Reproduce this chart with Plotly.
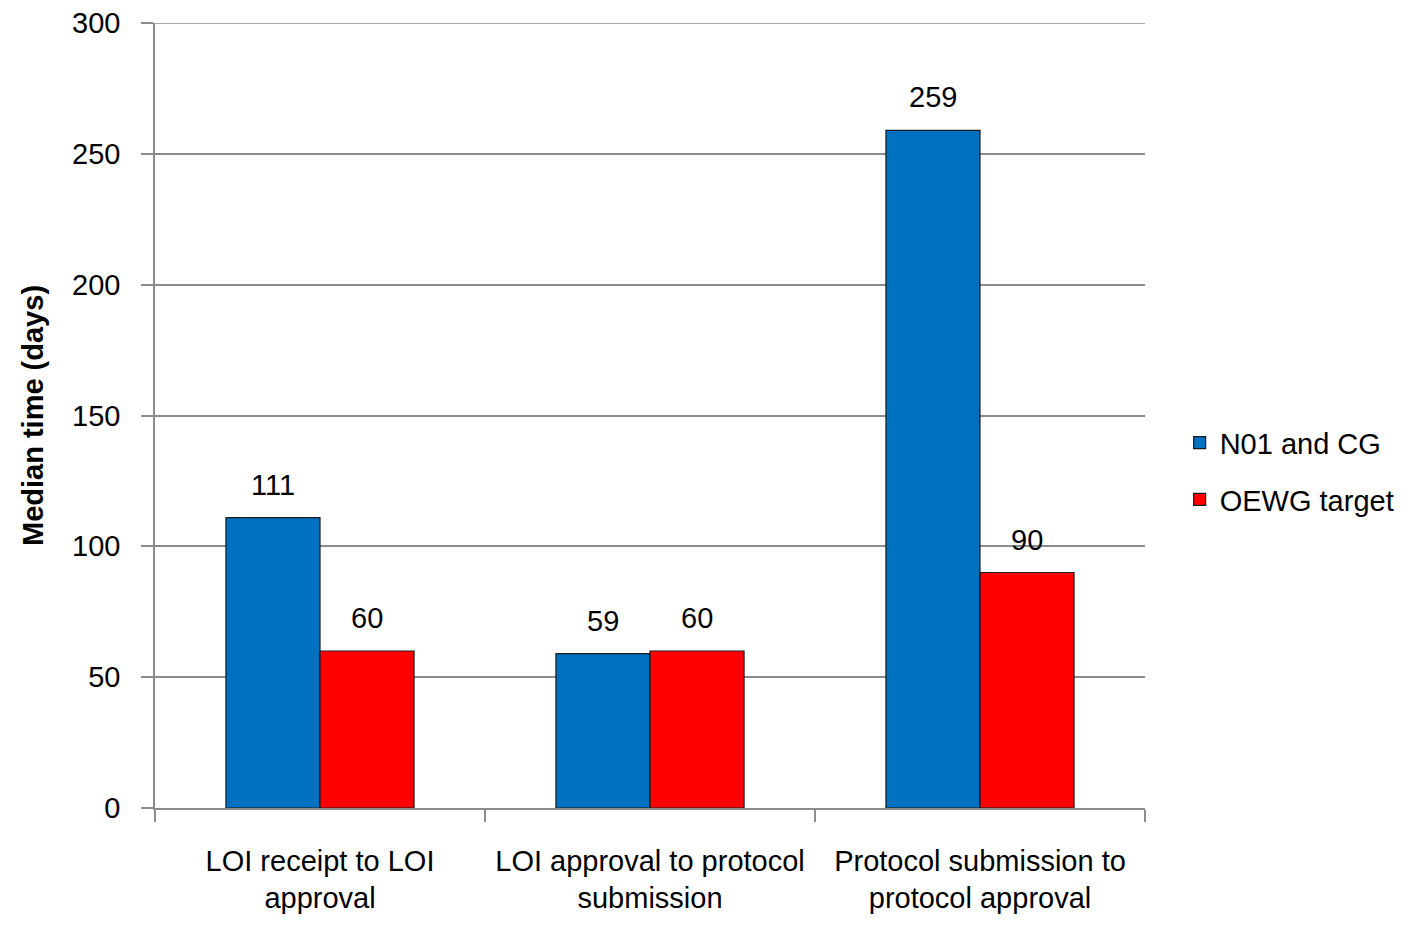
import plotly.graph_objects as go

categories = ["LOI receipt to LOI<br>approval", "LOI approval to protocol<br>submission", "Protocol submission to<br>protocol approval"]
n01_cg = [111, 59, 259]
oewg_target = [60, 60, 90]
y_ticks = [0, 50, 100, 150, 200, 250, 300]

FONT = "Liberation Sans, Arial, sans-serif"
GRID = "#8c8c8c"
FS = 29

fig = go.Figure()
fig.add_trace(go.Bar(
    name="N01 and CG", x=categories, y=n01_cg, legendgroup="a",
    marker=dict(color="#0070C0", line=dict(color="#1a1a1a", width=1.2)),
))
fig.add_trace(go.Bar(
    name="OEWG target", x=categories, y=oewg_target, legendgroup="b",
    marker=dict(color="#FF0000", line=dict(color="#1a1a1a", width=1.2)),
))

# value labels above bars (positioned via axis coordinates)
for vals, shift in ((n01_cg, -47), (oewg_target, 47)):
    for c, v in zip(categories, vals):
        fig.add_annotation(x=c, y=v, text=str(v), showarrow=False,
                           xshift=shift, yshift=15, yanchor="bottom",
                           font=dict(size=FS, family=FONT, color="#000000"))

# top gridline at the range maximum
fig.add_shape(type="line", xref="paper", x0=0, x1=1, yref="y", y0=y_ticks[-1], y1=y_ticks[-1],
              line=dict(color=GRID, width=1.5), layer="below")

fig.update_layout(
    width=1420, height=928,
    margin=dict(l=147, r=283, t=15, b=128),
    paper_bgcolor="white", plot_bgcolor="white",
    barmode="group", bargap=0.43, bargroupgap=0,
    font=dict(family=FONT, size=FS, color="#000000"),
    showlegend=True,
    legend=dict(x=1.035, y=0.429, xanchor="left", yanchor="middle",
                font=dict(size=FS, family=FONT), itemwidth=30,
                traceorder="grouped", tracegroupgap=16,
                bgcolor="rgba(0,0,0,0)"),
)
fig.update_yaxes(
    range=[0, 300], tickvals=y_ticks, showgrid=True, gridcolor=GRID, gridwidth=1.5,
    showline=True, linecolor=GRID, linewidth=1.5, ticks="outside", ticklen=12,
    tickcolor=GRID, tickwidth=1.5, zeroline=False, automargin=False,
    ticklabelstandoff=15, ticklabeloverflow="allow",
    tickfont=dict(size=FS, family=FONT),
    title=dict(text="<b>Median time (days)</b>", font=dict(size=FS, family=FONT), standoff=20),
)
fig.update_xaxes(
    showline=True, linecolor=GRID, linewidth=1.5, ticks="outside", ticklen=12,
    tickson="boundaries", tickcolor=GRID, tickwidth=1.5, tickangle=0,
    automargin=False, ticklabelstandoff=26,
    tickfont=dict(size=FS, family=FONT),
)

fig.write_html("out.html")
